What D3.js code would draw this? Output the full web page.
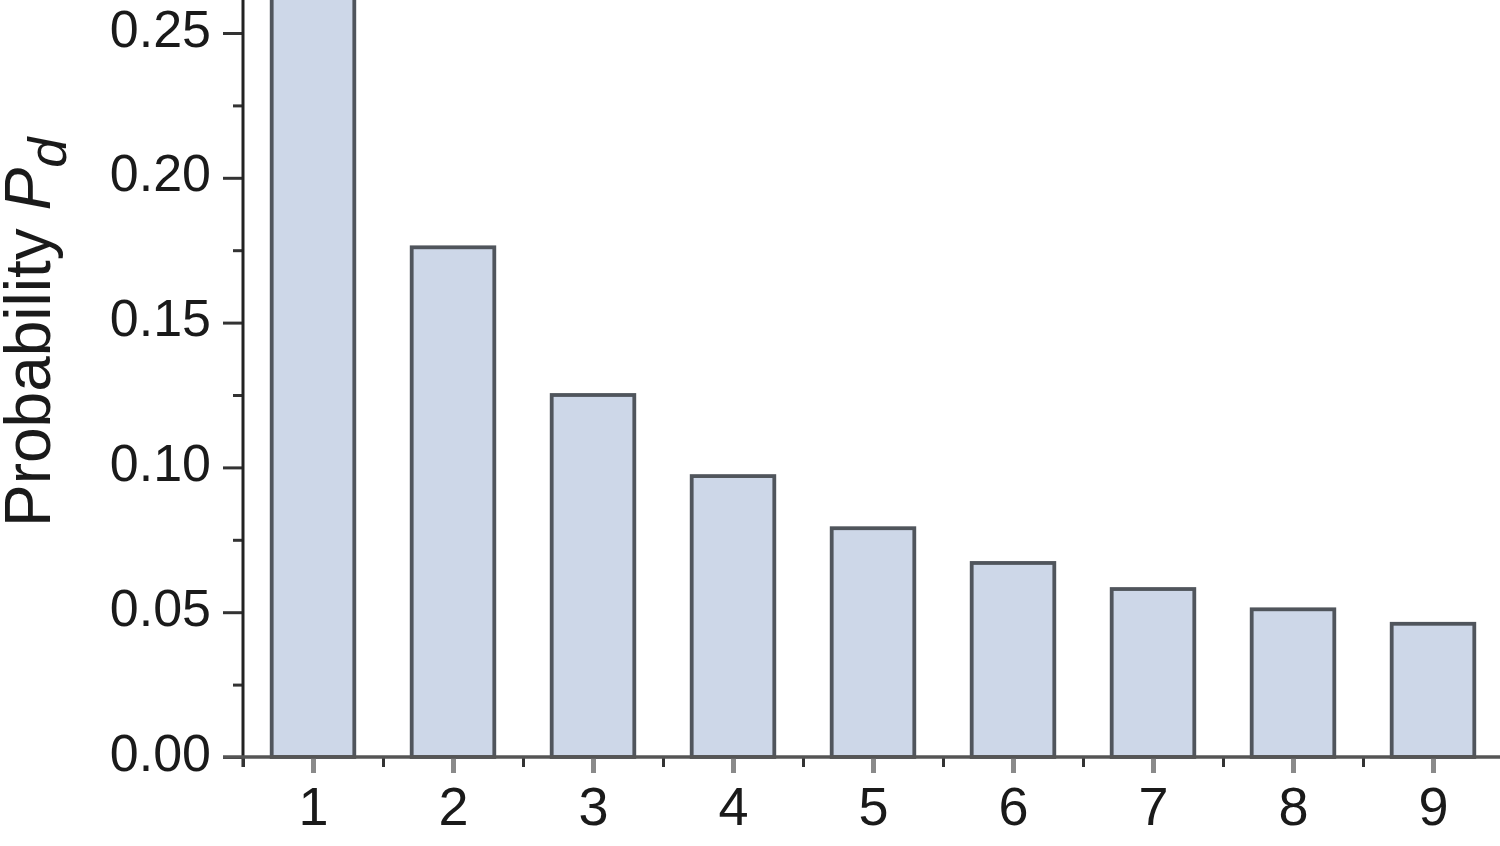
<!DOCTYPE html>
<html>
<head>
<meta charset="utf-8">
<script src="https://cdn.jsdelivr.net/npm/d3@7"></script>
<style>
  html, body { margin: 0; padding: 0; background: #fff; }
  svg { display: block; }
  text { font-family: "Liberation Sans", Arial, sans-serif; }
</style>
</head>
<body>
<svg id="chart" width="1500" height="846"></svg>
<script>
// Data
const digits = [1, 2, 3, 4, 5, 6, 7, 8, 9];
const probability = [0.301, 0.176, 0.125, 0.097, 0.079, 0.067, 0.058, 0.051, 0.046];
const yTickValues = [0.00, 0.05, 0.10, 0.15, 0.20, 0.25];
const yMinorTickValues = [0.025, 0.075, 0.125, 0.175, 0.225];
const xMinorTickValues = [0.5, 1.5, 2.5, 3.5, 4.5, 5.5, 6.5, 7.5, 8.5, 9.5];
const yLabel = "Probability ";
const yLabelSymbol = "P";
const yLabelSub = "d";

const svg = d3.select("#chart");
const W = 1500, H = 846;

const x = d3.scaleLinear().domain([1, 9]).range([313, 1433]);
const y = d3.scaleLinear().domain([0, 0.25]).range([757, 33]);
const barW = (x(2) - x(1)) * 0.59;

// Bars
svg.append("g").selectAll("rect")
  .data(digits)
  .join("rect")
  .attr("x", d => x(d) - barW / 2)
  .attr("y", (d, i) => y(probability[i]))
  .attr("width", barW)
  .attr("height", (d, i) => y(0) - y(probability[i]))
  .attr("fill", "#cdd7e8")
  .attr("stroke", "#50555c")
  .attr("stroke-width", 3.8);

// Y axis (major)
const yAxis = d3.axisLeft(y)
  .tickValues(yTickValues)
  .tickSize(20)
  .tickPadding(12)
  .tickFormat(d3.format(".2f"));
const gy = svg.append("g").attr("transform", `translate(${x(0.5)},0)`).call(yAxis);
gy.select(".domain").remove();
gy.selectAll(".tick line").attr("stroke", "#333").attr("stroke-width", 3);
gy.selectAll(".tick text")
  .attr("font-size", 52)
  .attr("fill", "#1a1a1a")
  .attr("dy", "0.25em");

// Y axis (minor)
const yMinor = d3.axisLeft(y).tickValues(yMinorTickValues).tickSize(10).tickFormat("");
const gym = svg.append("g").attr("transform", `translate(${x(0.5)},0)`).call(yMinor);
gym.select(".domain").remove();
gym.selectAll(".tick line").attr("stroke", "#333").attr("stroke-width", 3);

// Y axis line
svg.append("line")
  .attr("x1", x(0.5)).attr("x2", x(0.5))
  .attr("y1", 0).attr("y2", y(0) + 10)
  .attr("stroke", "#222").attr("stroke-width", 3);

// X axis (major)
const xAxis = d3.axisBottom(x)
  .tickValues(digits)
  .tickSize(16)
  .tickPadding(14)
  .tickFormat(d3.format("d"));
const gx = svg.append("g").attr("transform", `translate(0,${y(0)})`).call(xAxis);
gx.select(".domain").remove();
gx.selectAll(".tick line").attr("stroke", "#8a8a8a").attr("stroke-width", 5);
gx.selectAll(".tick text")
  .attr("font-size", 54)
  .attr("fill", "#1a1a1a");

// X axis (minor)
const xMinor = d3.axisBottom(x).tickValues(xMinorTickValues).tickSize(10).tickFormat("");
const gxm = svg.append("g").attr("transform", `translate(0,${y(0)})`).call(xMinor);
gxm.select(".domain").remove();
gxm.selectAll(".tick line").attr("stroke", "#333").attr("stroke-width", 3);

// X axis line
svg.append("line")
  .attr("x1", x(0.5) - 20).attr("x2", W)
  .attr("y1", y(0)).attr("y2", y(0))
  .attr("stroke", "#555").attr("stroke-width", 3.5);

// Y axis title
const title = svg.append("text")
  .attr("transform", `translate(50,${y(0) - 230}) rotate(-90)`)
  .attr("font-size", 64)
  .attr("fill", "#1a1a1a");
title.append("tspan").text(yLabel);
title.append("tspan").attr("font-style", "italic").text(yLabelSymbol);
title.append("tspan").attr("font-style", "italic").attr("font-size", 54).attr("dy", 16).text(yLabelSub);
</script>
</body>
</html>
